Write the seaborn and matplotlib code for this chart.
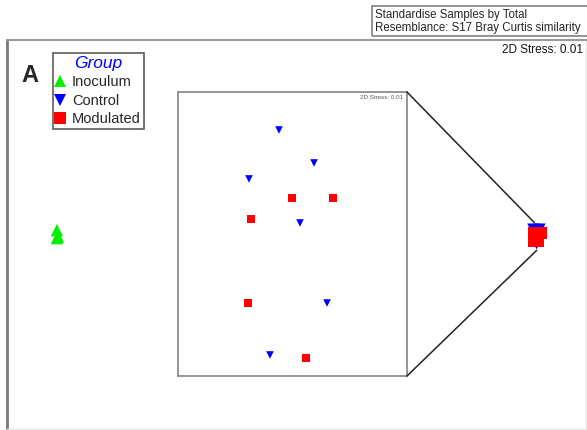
import matplotlib
matplotlib.use("Agg")
import matplotlib.pyplot as plt
import seaborn as sns
import pandas as pd
import numpy as np
from matplotlib.patches import Rectangle, ConnectionPatch

# ---------------- data ----------------
groups = ["Inoculum", "Control", "Modulated"]
colors = ["#00ee00", "#0000ff", "#ff0000"]
markers = ["^", "v", "s"]

# main ordination (all samples)
inoc_x = [-0.993, -0.993, -0.989]
inoc_y = [0.018, -0.015, -0.008]
ctrl_x = [0.982, 1.007, 0.993, 0.997, 1.003, 0.995]
ctrl_y = [0.020, 0.020, 0.016, 0.004, -0.010, -0.036]
mod_x = [0.984, 1.011, 0.989, 0.986, 1.001]
mod_y = [0.006, 0.006, -0.011, -0.025, -0.028]

# inset ordination (Control + Modulated only)
in_ctrl_x = [-0.177, 0.282, -0.570, 0.098, 0.452, -0.295]
in_ctrl_y = [1.362, 0.930, 0.721, 0.144, -0.904, -1.585]
in_mod_x = [-0.007, 0.531, -0.544, -0.583, 0.177]
in_mod_y = [0.472, 0.472, 0.197, -0.904, -1.624]

stress_main = "2D Stress: 0.01"
stress_inset = "2D Stress: 0.01"
info_lines = ["Standardise Samples by Total", "Resemblance: S17 Bray Curtis similarity"]
panel_label = "A"

main_df = pd.DataFrame({
    "NMDS1": inoc_x + ctrl_x + mod_x,
    "NMDS2": inoc_y + ctrl_y + mod_y,
    "Group": ["Inoculum"] * len(inoc_x) + ["Control"] * len(ctrl_x) + ["Modulated"] * len(mod_x),
})
inset_df = pd.DataFrame({
    "NMDS1": in_ctrl_x + in_mod_x,
    "NMDS2": in_ctrl_y + in_mod_y,
    "Group": ["Control"] * len(in_ctrl_x) + ["Modulated"] * len(in_mod_x),
})

# ---------------- figure ----------------
sns.set_style("white")
plt.rcParams["font.family"] = ["Liberation Sans", "DejaVu Sans"]

W, H = 587, 430
fig = plt.figure(figsize=(W / 100, H / 100), dpi=100)

def fig_rect(x0, y0, x1, y1):
    return [x0 / W, 1 - y1 / H, (x1 - x0) / W, (y1 - y0) / H]

ax = fig.add_axes(fig_rect(7, 40, 586, 429))
pal = dict(zip(groups, colors))
mk = dict(zip(groups, markers))

sns.scatterplot(data=main_df, x="NMDS1", y="NMDS2", hue="Group", style="Group",
                hue_order=groups, style_order=groups, palette=pal, markers=mk,
                s=80, linewidth=0, ax=ax, legend=True)
ax.set_xlim(-1.2, 1.2)
ax.set_ylim(-0.806, 0.806)
ax.set_xticks([]); ax.set_yticks([])
ax.set_xlabel(""); ax.set_ylabel("")
for side, col, lw in [("left", "#7a7a7a", 2.0), ("top", "#9a9a9a", 1.5),
                      ("right", "#e6e6e6", 1.0), ("bottom", "#e6e6e6", 1.0)]:
    ax.spines[side].set_color(col)
    ax.spines[side].set_linewidth(lw)
    ax.spines[side].set_visible(True)

handles, labels = ax.get_legend_handles_labels()
hl = {l: h for h, l in zip(handles, labels)}
leg = ax.legend([hl[g] for g in groups], groups, title="Group",
                loc="upper left", bbox_to_anchor=(53 / W, 1 - 53 / H),
                bbox_transform=fig.transFigure, borderaxespad=0,
                frameon=True, fancybox=False, edgecolor="#333333",
                fontsize=10.5, handlelength=0.6, handletextpad=0.5,
                labelspacing=0.3, borderpad=0.2, markerscale=1.0)
leg.get_frame().set_linewidth(1.2)
leg.get_title().set_color("#0000ff")
leg.get_title().set_fontstyle("italic")
leg.get_title().set_fontsize(12.5)

ax.text(0.995, 0.99, stress_main, transform=ax.transAxes, ha="right", va="top",
        fontsize=8.5, color="#111111")
fig.text(21 / W, 1 - 82 / H, panel_label, fontsize=17, fontweight="bold",
         ha="left", va="baseline")

# info box at top right
fig.patches.append(Rectangle((372 / W, 1 - 36 / H), (590 - 372) / W, 30 / H,
                             transform=fig.transFigure, fill=False,
                             edgecolor="#808080", linewidth=1.2))
fig.text(375 / W, 1 - 18 / H, info_lines[0], fontsize=8.3, va="baseline", ha="left")
fig.text(375 / W, 1 - 31 / H, info_lines[1], fontsize=8.3, va="baseline", ha="left")

# inset
axin = fig.add_axes(fig_rect(178, 92, 407, 376))
sns.scatterplot(data=inset_df, x="NMDS1", y="NMDS2", hue="Group", style="Group",
                hue_order=groups[1:], style_order=groups[1:], palette=pal, markers=mk,
                s=30, linewidth=0, ax=axin, legend=False)
axin.set_xlim(-1.5, 1.5)
axin.set_ylim(-1.86, 1.86)
axin.set_xticks([]); axin.set_yticks([])
axin.set_xlabel(""); axin.set_ylabel("")
for s in axin.spines.values():
    s.set_visible(True)
    s.set_color("#8c8c8c")
    s.set_linewidth(1.3)
axin.text(0.985, 0.99, stress_inset, transform=axin.transAxes, ha="right", va="top",
          fontsize=4.5, color="#555555")

# connectors from inset corners to the cluster in the main plot
clu = main_df[main_df["Group"] != "Inoculum"]
cx = clu["NMDS1"].mean()
top_pt = (cx - 0.01, clu["NMDS2"].max() + 0.03)
bot_pt = (cx, clu["NMDS2"].min() - 0.03)
for (ax_xy, pt) in [((1, 1), top_pt), ((1, 0), bot_pt)]:
    con = ConnectionPatch(xyA=ax_xy, coordsA=axin.transAxes, xyB=pt, coordsB=ax.transData,
                          color="#222222", linewidth=1.1)
    fig.add_artist(con)

fig.savefig("out.png", dpi=100)
